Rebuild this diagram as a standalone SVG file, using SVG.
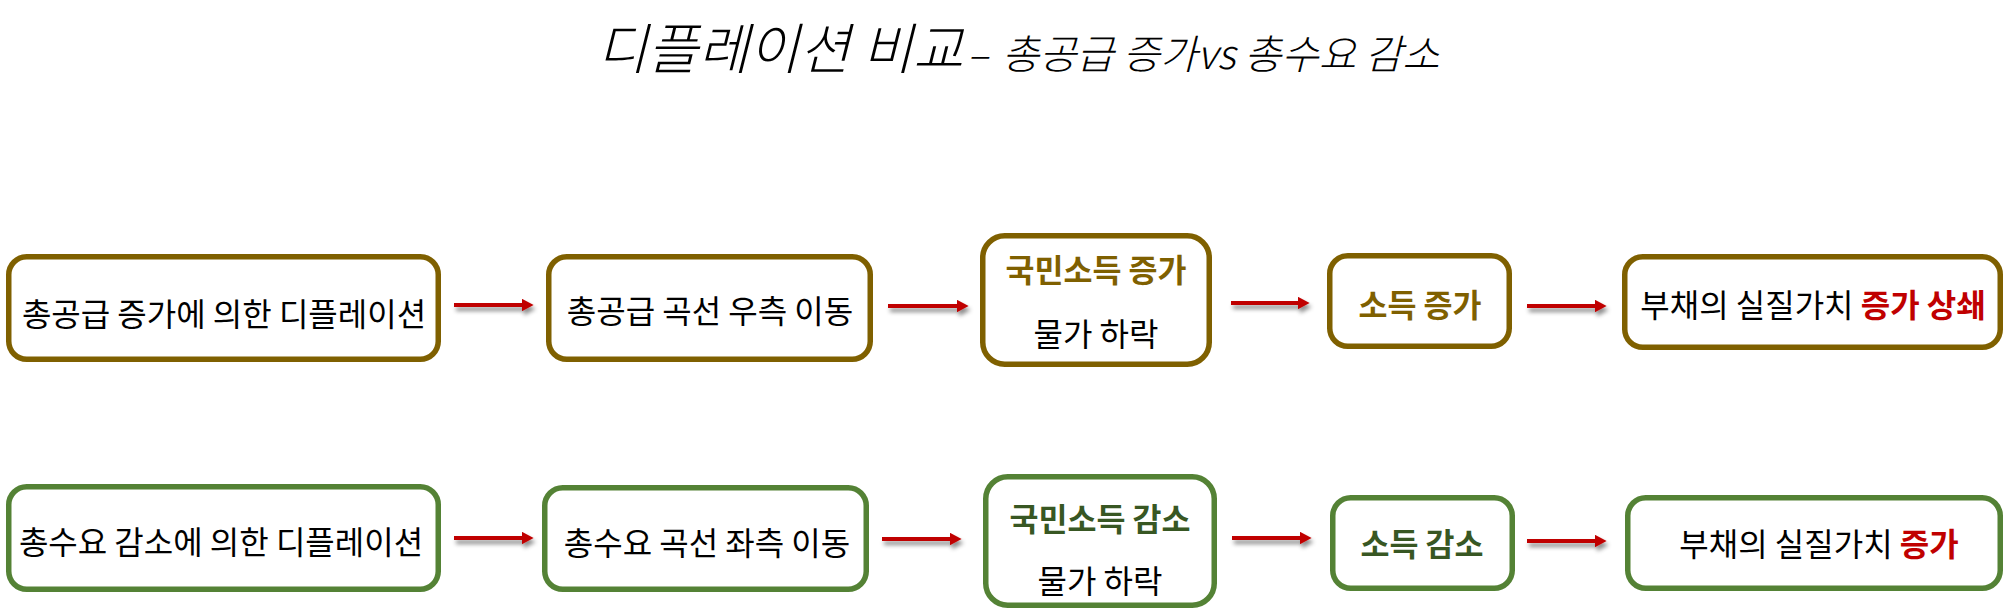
<svg xmlns="http://www.w3.org/2000/svg" width="2014" height="616" viewBox="0 0 2014 616">
<defs>
<style>
.t{font-family:"Noto Sans CJK KR","Noto Sans",sans-serif;font-size:32px;fill:#000;text-anchor:middle}
.b{font-weight:700;font-size:31.5px}
.g1{fill:#7F6000}
.g2{fill:#385723}
.red{fill:#C00000;font-weight:700}
.box{fill:#fff;stroke-width:5.5}
.r1 .box{stroke:#7F6000}
.r2 .box{stroke:#548235}
.ttl{font-family:"Noto Sans CJK KR","Noto Sans",sans-serif;font-style:italic;font-weight:300;fill:#000}
.arr{stroke:#C00000;stroke-width:4;fill:none;marker-end:url(#ah)}
</style>
<marker id="ah" markerWidth="3" markerHeight="3.2" viewBox="0 0 3 3.2" refX="0.1" refY="1.6" orient="auto">
<path d="M0,0 L3,1.6 L0,3.2 z" fill="#C00000"/>
</marker>
<filter id="sh" filterUnits="userSpaceOnUse" x="0" y="0" width="2014" height="616">
<feDropShadow dx="2" dy="4" stdDeviation="2" flood-color="#000" flood-opacity="0.45"/>
</filter>
</defs>
<rect width="2014" height="616" fill="#fff"/>

<g id="title">
<text class="ttl" x="597" y="69" font-size="55">디플레이션 비교</text>
<text class="ttl" x="967" y="69" font-size="40">– </text>
<text class="ttl" x="1002" y="69" font-size="40.5">총공급 증가vs 총수요 감소</text>
</g>

<g id="connectors" filter="url(#sh)">
<line class="arr" x1="454" y1="305" x2="522" y2="305"/>
<line class="arr" x1="888" y1="306" x2="957" y2="306"/>
<line class="arr" x1="1231" y1="303" x2="1298" y2="303"/>
<line class="arr" x1="1527" y1="306" x2="1595" y2="306"/>
<line class="arr" x1="454" y1="538" x2="522" y2="538"/>
<line class="arr" x1="882" y1="539" x2="950" y2="539"/>
<line class="arr" x1="1232" y1="538" x2="1300" y2="538"/>
<line class="arr" x1="1527" y1="541" x2="1595" y2="541"/>
</g>

<g class="r1">
<g id="n1a">
<rect class="box" x="8.75" y="256.75" width="429.5" height="102.5" rx="18"/>
<text class="t" x="224" y="326">총공급 증가에 의한 디플레이션</text>
</g>
<g id="n1b">
<rect class="box" x="548.75" y="256.75" width="321.5" height="102.5" rx="18"/>
<text class="t" x="710" y="323">총공급 곡선 우측 이동</text>
</g>
<g id="n1c">
<rect class="box" x="982.75" y="235.75" width="226.5" height="128.5" rx="22"/>
<text class="t b g1" x="1096" y="282">국민소득 증가</text>
<text class="t" x="1096" y="346">물가 하락</text>
</g>
<g id="n1d">
<rect class="box" x="1329.75" y="255.75" width="179.5" height="90.5" rx="18"/>
<text class="t b g1" x="1420" y="317">소득 증가</text>
</g>
<g id="n1e">
<rect class="box" x="1624.75" y="256.75" width="375.5" height="90.5" rx="18"/>
<text class="t" x="1813" y="317">부채의 실질가치 <tspan class="red">증가 상쇄</tspan></text>
</g>
</g>

<g class="r2">
<g id="n2a">
<rect class="box" x="8.75" y="486.75" width="429.5" height="102.5" rx="18"/>
<text class="t" x="221" y="554">총수요 감소에 의한 디플레이션</text>
</g>
<g id="n2b">
<rect class="box" x="544.75" y="487.75" width="321.5" height="101.5" rx="18"/>
<text class="t" x="707" y="555">총수요 곡선 좌측 이동</text>
</g>
<g id="n2c">
<rect class="box" x="985.75" y="476.75" width="228.5" height="128.5" rx="22"/>
<text class="t b g2" x="1100" y="531">국민소득 감소</text>
<text class="t" x="1100" y="593">물가 하락</text>
</g>
<g id="n2d">
<rect class="box" x="1332.75" y="497.75" width="179.5" height="90.5" rx="18"/>
<text class="t b g2" x="1422" y="556">소득 감소</text>
</g>
<g id="n2e">
<rect class="box" x="1627.75" y="497.75" width="372.5" height="90.5" rx="18"/>
<text class="t" x="1819" y="556">부채의 실질가치 <tspan class="red">증가</tspan></text>
</g>
</g>
</svg>
